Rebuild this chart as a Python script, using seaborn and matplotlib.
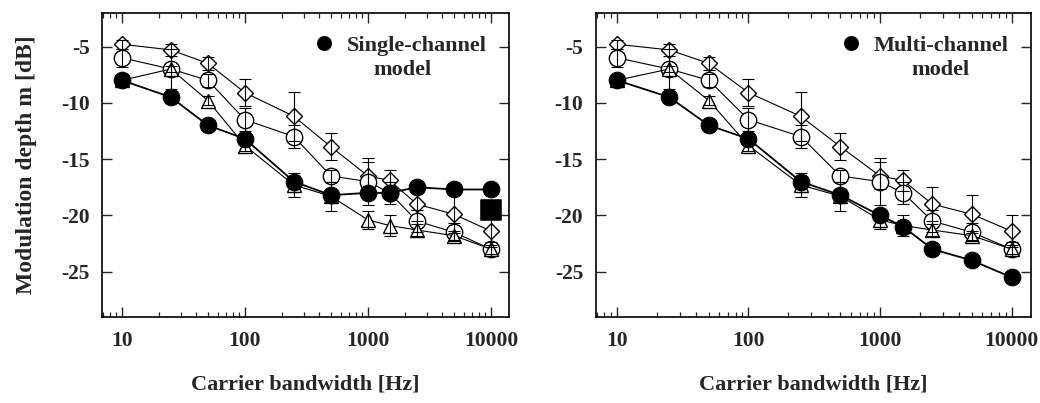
import matplotlib
matplotlib.use("Agg")
import matplotlib.pyplot as plt
from matplotlib.ticker import LogLocator, FixedLocator, NullFormatter, FixedFormatter
import seaborn as sns
import pandas as pd

# Carrier bandwidths (Hz)
bandwidth = [10, 25, 50, 100, 250, 500, 1000, 1500, 2500, 5000, 10000]

# Measured thresholds (dB) with error bars, three listeners
diamond_vals = [-4.8, -5.3, -6.5, -9.1, -11.2, -13.9, -16.5, -16.9, -19.0, -19.9, -21.4]
diamond_err = [0.4, 0.5, 0.6, 1.2, 2.2, 1.2, 1.2, 0.9, 1.5, 1.7, 1.4]
circle_vals = [-6.0, -7.0, -8.0, -11.5, -13.0, -16.5, -17.0, -18.0, -20.5, -21.5, -23.0]
circle_err = [0.8, 1.8, 0.6, 1.0, 1.0, 0.5, 2.1, 1.0, 1.0, 0.8, 0.6]
triangle_vals = [-8.0, -7.0, -9.8, -13.8, -17.3, -18.3, -20.4, -20.9, -21.3, -21.8, -23.0]
triangle_err = [0.3, 0.3, 0.4, 0.5, 1.1, 1.3, 0.8, 0.9, 0.5, 0.4, 0.4]

# Model predictions (dB)
single_channel = [-8.0, -9.5, -12.0, -13.2, -17.0, -18.2, -18.0, -18.0, -17.5, -17.7, -17.7]
multi_channel = [-8.0, -9.5, -12.0, -13.2, -17.0, -18.2, -20.0, -21.0, -23.0, -24.0, -25.5]
extra_bw = [10000]
extra_single = [-19.5]

y_ticks = [-5, -10, -15, -20, -25]
x_ticks = [10, 100, 1000, 10000]
x_ticklabels = ["10", "100", "1000", "10000"]

sns.set_style("ticks")
plt.rcParams["font.family"] = ["Liberation Serif", "DejaVu Serif"]
plt.rcParams["font.weight"] = "bold"
plt.rcParams["axes.unicode_minus"] = False

fig = plt.figure(figsize=(10.4, 4.03), dpi=100)
ax_left = fig.add_axes([0.0981, 0.2141, 0.3913, 0.7543])
ax_right = fig.add_axes([0.5728, 0.2141, 0.4183, 0.7543])

listeners = [
    ("D", 8.2, diamond_vals, diamond_err),
    ("o", 11.8, circle_vals, circle_err),
    ("^", 10.5, triangle_vals, triangle_err),
]


def draw_panel(ax, model_vals, label, second_line, legend_x, shift_px):
    for marker, ms, vals, err in listeners:
        df = pd.DataFrame({"bw": bandwidth, "m": vals})
        sns.lineplot(data=df, x="bw", y="m", ax=ax, color="black", linewidth=0.8,
                     marker=marker, markersize=ms, markerfacecolor="white",
                     markeredgecolor="black", markeredgewidth=1.0, zorder=3)
        ax.errorbar(bandwidth, vals, yerr=err, fmt="none", ecolor="black",
                    elinewidth=0.8, capsize=4, capthick=0.8, zorder=4)
    dfm = pd.DataFrame({"bw": bandwidth, "m": model_vals})
    sns.lineplot(data=dfm, x="bw", y="m", ax=ax, color="black", linewidth=1.3,
                 marker="o", markersize=12, markerfacecolor="black",
                 markeredgecolor="black", zorder=5, label=label)

    ax.set_xscale("log")
    ax.set_xlim(6.9, 14000)
    ax.set_ylim(-29, -2)
    ax.xaxis.set_major_locator(FixedLocator(x_ticks))
    ax.xaxis.set_major_formatter(FixedFormatter(x_ticklabels))
    ax.xaxis.set_minor_locator(LogLocator(base=10, subs=range(2, 10), numticks=20))
    ax.xaxis.set_minor_formatter(NullFormatter())
    ax.yaxis.set_major_locator(FixedLocator(y_ticks))
    ax.yaxis.set_minor_locator(FixedLocator([]))
    ax.tick_params(axis="both", which="major", direction="in", length=7, width=1.0,
                   top=True, right=True, labelsize=15.5)
    ax.tick_params(axis="both", which="minor", direction="in", length=3.5, width=0.9,
                   top=True, right=True)
    ax.tick_params(axis="x", which="major", pad=10)
    ax.tick_params(axis="y", which="major", pad=9)
    for lab in ax.get_xticklabels() + ax.get_yticklabels():
        lab.set_fontweight("bold")
    for sp in ax.spines.values():
        sp.set_visible(True)
        sp.set_linewidth(1.2)
        sp.set_color("black")

    ax.set_xlabel("Carrier bandwidth [Hz]", fontsize=16, fontweight="bold", labelpad=17)
    ax.set_ylabel("")

    leg = ax.legend(loc="upper right", bbox_to_anchor=(legend_x, 0.925), frameon=False,
                    handlelength=0.8, handletextpad=0.6,
                    borderpad=0, borderaxespad=0, prop={"weight": "bold", "size": 16})
    for h in leg.legend_handles:
        h.set_linestyle("none")
        h.set_markersize(10)

    # second line of the legend entry, set under the first
    fig.canvas.draw()
    bb = leg.get_texts()[0].get_window_extent()
    cx, top = ax.transAxes.inverted().transform(
        ((bb.x0 + bb.x1) / 2 + shift_px, bb.y0 - 4))
    ax.text(cx, top, second_line, transform=ax.transAxes, ha="center", va="top",
            fontsize=16, fontweight="bold")


draw_panel(ax_left, single_channel, "Single-channel", "model", 0.945, -14)
sns.scatterplot(x=extra_bw, y=extra_single, ax=ax_left, marker="s", s=200,
                color="black", edgecolor="black", zorder=6, legend=False)
ax_left.set_ylabel("Modulation depth m [dB]", fontsize=17, fontweight="bold", labelpad=17)

draw_panel(ax_right, multi_channel, "Multi-channel", "model", 0.948, 0)

fig.savefig("out.png", dpi=100)
